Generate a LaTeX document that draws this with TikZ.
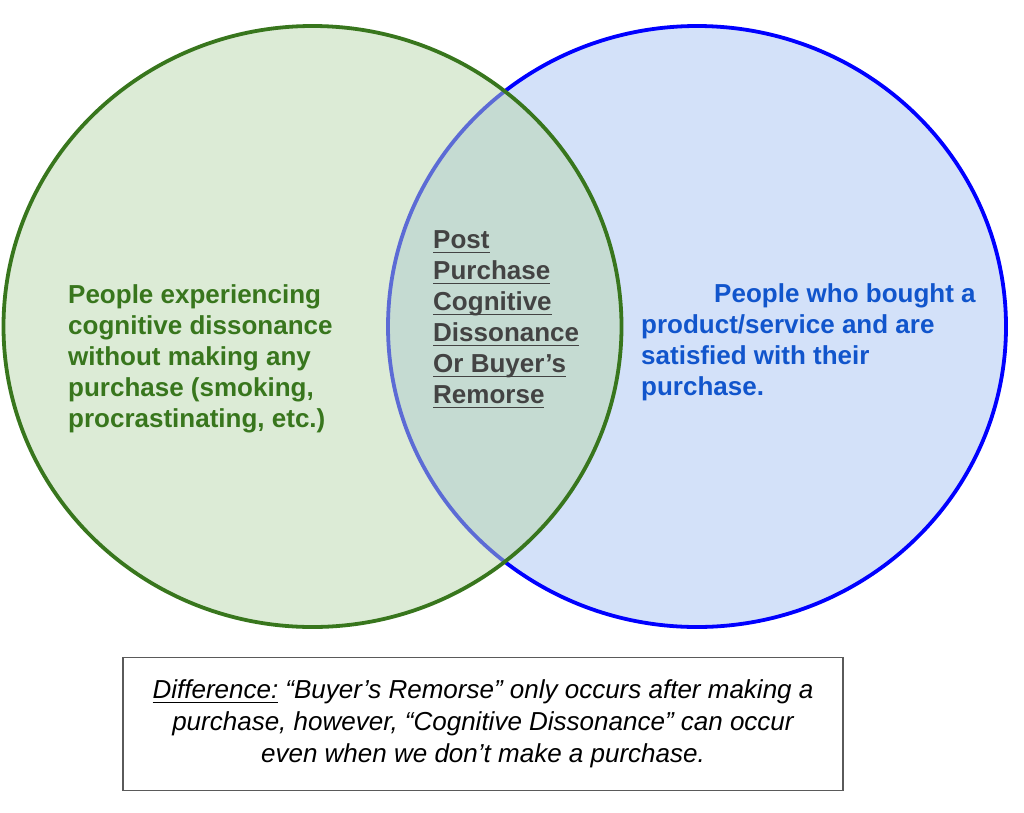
\documentclass[tikz,border=0pt]{standalone}
\usepackage{fontspec}
\setmainfont{Liberation Sans}
\usetikzlibrary{shapes.geometric}
\definecolor{gstroke}{HTML}{38761D}
\definecolor{gfill}{HTML}{B9D7AD}
\definecolor{bstroke}{HTML}{0000FF}
\definecolor{bfill}{HTML}{D3E1F9}
\definecolor{gtext}{HTML}{38761D}
\definecolor{btext}{HTML}{1155CC}
\definecolor{mtext}{HTML}{434343}
\definecolor{boxline}{HTML}{5A5A5A}
\newcommand\myul[3]{\setbox0\hbox{#3}\rlap{\rule[-#1]{\wd0}{#2}}\box0\relax}
\tikzset{
  lbl/.style={inner sep=0pt, align=left, font={\fontsize{26}{31}\selectfont\bfseries}},
  circ/.style={ellipse, minimum width=618pt, minimum height=601pt, inner sep=0pt, line width=3.8pt}
}
\begin{document}
\begin{tikzpicture}[x=1pt,y=-1pt]
\useasboundingbox (0,0) rectangle (1024,812);
\node[circ, draw=bstroke, fill=bfill] (blue) at (697,326.5) {};
\node[circ, draw=gstroke, fill=gfill, fill opacity=0.5, draw opacity=1] (green) at (312.5,326.5) {};
\node[lbl, text=gtext, anchor=west] (gl) at (68,358.5) {People experiencing\\cognitive dissonance\\without making any\\purchase (smoking,\\procrastinating, etc.)};
\node[lbl, text=btext, anchor=west] (bl) at (641,342) {\hspace*{73pt}People who bought a\\product/service and are\\satisfied with their\\purchase.};
\node[lbl, text=mtext, anchor=west] (ml) at (433,319.5) {\myul{5pt}{1.8pt}{Post}\\\myul{5pt}{1.8pt}{Purchase}\\\myul{5pt}{1.8pt}{Cognitive}\\\myul{5pt}{1.8pt}{Dissonance}\\\myul{5pt}{1.8pt}{Or Buyer’s}\\\myul{5pt}{1.8pt}{Remorse}};
\node[draw=boxline, line width=1.5pt, minimum width=720pt, minimum height=133pt, inner sep=0pt, align=center, font={\fontsize{26}{32}\selectfont\itshape}] (diff) at (483,724) {\myul{4pt}{1pt}{Difference:} “Buyer’s Remorse” only occurs after making a\\purchase, however, “Cognitive Dissonance” can occur\\even when we don’t make a purchase.};
\end{tikzpicture}
\end{document}
